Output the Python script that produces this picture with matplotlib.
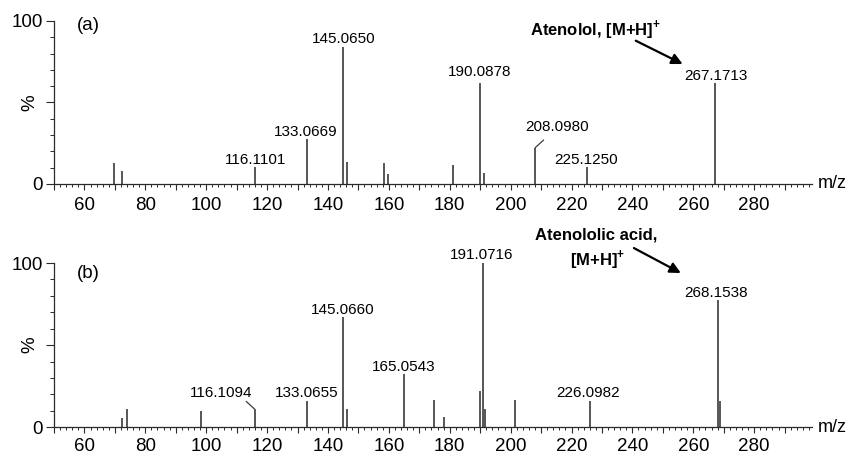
import numpy as np
import matplotlib
matplotlib.use('Agg')
import matplotlib.pyplot as plt
from matplotlib.ticker import MultipleLocator, FuncFormatter

plt.rcParams['font.family'] = ['Liberation Sans', 'DejaVu Sans']
plt.rcParams['mathtext.fontset'] = 'custom'
plt.rcParams['mathtext.bf'] = 'Liberation Sans:bold'
plt.rcParams['mathtext.rm'] = 'Liberation Sans'

# spectrum (a) - atenolol
mz_a = [69.7, 72.3, 116.1101, 133.0669, 145.0650, 146.1, 158.3, 159.7, 181.0,
        190.0878, 191.1, 208.0980, 225.1250, 267.1713]
int_a = [12.7, 8.2, 10.6, 27.4, 84.2, 13.3, 13.1, 6.3, 11.7, 61.8, 6.5, 22.3, 10.6, 61.8]
lab_a = ['', '', '116.1101', '133.0669', '145.0650', '', '', '', '',
         '190.0878', '', '208.0980', '225.1250', '267.1713']

# spectrum (b) - atenololic acid
mz_b = [72.5, 74.1, 98.3, 116.1094, 133.0655, 145.0660, 146.1, 165.0543, 174.8, 178.2,
        189.9, 191.0716, 191.5, 201.4, 226.0982, 268.1538, 268.8]
int_b = [5.7, 11.4, 9.7, 10.7, 16.2, 67.0, 11.1, 32.6, 16.8, 6.1, 22.3, 100.0, 11.4,
         16.8, 16.2, 77.7, 16.2]
lab_b = ['', '', '', '116.1094', '133.0655', '145.0660', '', '165.0543', '', '',
         '', '191.0716', '', '', '226.0982', '268.1538', '']

line_col = '#3a3a3a'
axis_col = '#2a2a2a'

# label offsets in points (dx, dy); leader = label moved off with a short line
offs = {'116.1101': (0, 0), '133.0669': (-0.7, 0.5), '145.0650': (0, 0.5),
        '190.0878': (-0.7, 3), '225.1250': (-1.1, 0), '267.1713': (0.5, 0),
        '133.0655': (0, 0.5), '145.0660': (-0.5, 0), '165.0543': (-0.7, -0.5),
        '191.0716': (-1.4, 1), '226.0982': (-1.4, 0.5), '268.1538': (-1.7, 0)}
leaders = {'208.0980': ((6, 5.5), (15.6, 14.9)),
           '116.1094': ((-6.5, 6), (-24.3, 12))}


def draw(ax, mz, inten, labs, letter, letter_y, xpad):
    ax.vlines(mz, 0, inten, color=line_col, lw=1.2)
    ax.set_xlim(50, 299)
    ax.set_ylim(0, 100)
    for s in ['top', 'right']:
        ax.spines[s].set_visible(False)
    for s in ['left', 'bottom']:
        ax.spines[s].set_color(axis_col)
        ax.spines[s].set_linewidth(0.9)
    ax.xaxis.set_major_locator(MultipleLocator(10))
    ax.xaxis.set_minor_locator(MultipleLocator(2))
    ax.xaxis.set_major_formatter(FuncFormatter(lambda v, p: '%d' % v if v % 20 == 0 and 60 <= v <= 280 else ''))
    ax.yaxis.set_major_locator(MultipleLocator(50))
    ax.yaxis.set_minor_locator(MultipleLocator(10))
    ax.yaxis.set_major_formatter(FuncFormatter(lambda v, p: '%d' % v if v != 50 else ''))
    ax.tick_params(axis='x', which='major', length=4, width=0.8, pad=xpad, labelsize=13.5, color=axis_col)
    ax.tick_params(axis='x', which='minor', length=2.3, width=0.7, color=axis_col)
    ax.tick_params(axis='y', which='major', length=6, width=0.8, pad=2, labelsize=13.5, color=axis_col)
    ax.tick_params(axis='y', which='minor', length=3, width=0.7, color=axis_col)
    for x, y, t in zip(mz, inten, labs):
        if not t:
            continue
        if t in leaders:
            (lx, ly), (tx, ty) = leaders[t]
            ax.annotate('', xy=(x, y), xytext=(lx, ly), textcoords='offset points',
                        arrowprops=dict(arrowstyle='-', lw=0.9, color=line_col, shrinkA=0, shrinkB=0))
            ax.annotate(t, xy=(x, y), xytext=(tx, ty), textcoords='offset points',
                        ha='center', va='center', fontsize=11, annotation_clip=False)
        else:
            dx, dy = offs[t]
            ax.annotate(t, xy=(x, y), xytext=(dx, dy), textcoords='offset points',
                        ha='center', va='bottom', fontsize=11, annotation_clip=False)
    ax.text(0.045, letter_y, letter, transform=ax.transAxes, ha='center', va='center', fontsize=13.5)
    ax.text(-0.032, 0.5, '%', transform=ax.transAxes, rotation=90, ha='center', va='center', fontsize=13.5)
    ax.text(1.008, 0, 'm/z', transform=ax.transAxes, ha='left', va='center', fontsize=13)


fig = plt.figure(figsize=(8.5, 4.57), dpi=100)
ax_a = fig.add_axes([0.0635, 0.5974, 0.8918, 0.3567])
ax_b = fig.add_axes([0.0635, 0.0650, 0.8918, 0.3595])

draw(ax_a, mz_a, int_a, lab_a, '(a)', 0.975, 5.5)
draw(ax_b, mz_b, int_b, lab_b, '(b)', 0.939, 3.8)

arrow = dict(arrowstyle='-|>', lw=1.6, color='black', mutation_scale=16, shrinkA=0, shrinkB=0)
ax_a.annotate('', xy=(256.5, 73.6), xytext=(241.1, 87.9), arrowprops=arrow, annotation_clip=False)
ax_a.text(228, 94.5, r'Atenolol, [M+H]$^{\mathbf{+}}$', ha='center', va='center',
          fontsize=12, fontweight='bold')

ax_b.annotate('', xy=(255.9, 93.9), xytext=(240.5, 109.1), arrowprops=arrow, annotation_clip=False)
ax_b.text(228, 117.2, 'Atenololic acid,', ha='center', va='center', fontsize=12, fontweight='bold')
ax_b.text(228.7, 102, r'[M+H]$^{\mathbf{+}}$', ha='center', va='center', fontsize=12, fontweight='bold')

fig.savefig('out.png', dpi=100)
